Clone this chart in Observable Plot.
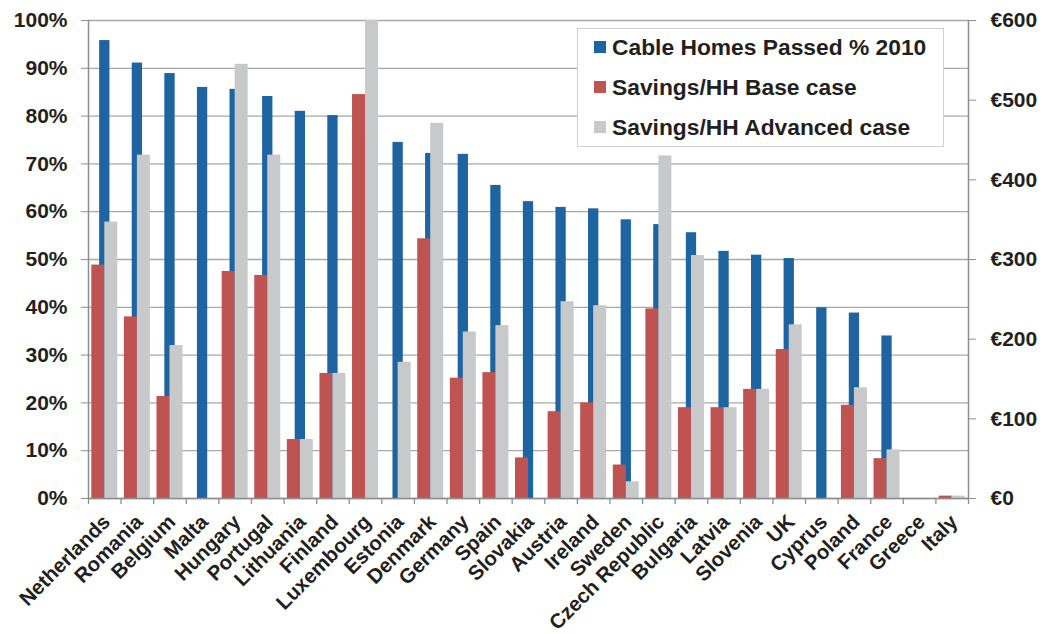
<!DOCTYPE html>
<html><head><meta charset="utf-8">
<script src="https://cdn.jsdelivr.net/npm/d3@7"></script>
<script src="https://cdn.jsdelivr.net/npm/@observablehq/plot@0.6"></script>
<style>
html,body{margin:0;padding:0;background:#fff;overflow:hidden;font-family:"Liberation Sans",Arial,sans-serif;}
#wrap{position:relative;width:1043px;height:634px;overflow:hidden;}
#chart svg{display:block;}
#legend{position:absolute;left:577px;top:28px;width:367px;height:119px;border:1px solid #d0d0d0;background:#fff;box-sizing:border-box;font-weight:bold;font-size:22.8px;color:#231f20;}
.row{position:absolute;left:16px;height:28px;display:flex;align-items:center;white-space:nowrap;}
.sw{width:12px;height:12px;margin-right:6px;flex:none;}
</style></head><body><div id="wrap"><div id="chart"></div><div id="legend"></div></div>
<script>
const countries = ["Netherlands","Romania","Belgium","Malta","Hungary","Portugal","Lithuania","Finland","Luxembourg","Estonia","Denmark","Germany","Spain","Slovakia","Austria","Ireland","Sweden","Czech Republic","Bulgaria","Latvia","Slovenia","UK","Cyprus","Poland","France","Greece","Italy"];
const cablePct = [95.8,91.1,88.9,86.0,85.6,84.1,81.0,80.1,76.0,74.5,72.2,72.0,65.5,62.1,60.9,60.6,58.3,57.3,55.6,51.7,50.9,50.2,39.9,38.8,34.0,0,0];
const savingsBase = [293,228,128,0,285,280,74,157,507,0,326,151,158,51,109,120,42,238,114,114,137,187,0,117,50,0,3];
const savingsAdv = [347,431,192,0,545,431,74,157,600,171,471,209,217,0,247,242,21,430,305,114,137,218,0,139,61,0,3];
const seriesNames = ["Cable Homes Passed % 2010","Savings/HH Base case","Savings/HH Advanced case"];
const seriesColors = ["#1d64a0","#be5352","#c8c9cb"];
const leftTicks = [0,10,20,30,40,50,60,70,80,90,100];
const rightTicks = [0,100,200,300,400,500,600];
const maxPct = 100, maxEuro = 600;

const W = 1043, H = 634, mL = 88, mR = 75, mT = 20, mB = 136;
const bw = (W - mL - mR) / countries.length;
const table = countries.map((c, i) => ({country: c, cable: cablePct[i], base: savingsBase[i], adv: savingsAdv[i]}));
const axisColor = "#8e8e8e";
const font = '"Liberation Sans", Arial, sans-serif';

const chart = Plot.plot({
  width: W, height: H,
  marginLeft: mL, marginRight: mR, marginTop: mT, marginBottom: mB,
  style: {fontFamily: font, fontWeight: "bold", fontSize: "21px", color: "#231f20", background: "#fff", overflow: "visible"},
  x: {type: "band", domain: countries, padding: 0, round: false},
  y: {domain: [0, 1]},
  marks: [
    Plot.gridY(leftTicks.map(d => d / maxPct), {stroke: "#a8a8a8", strokeOpacity: 1, strokeWidth: 1.3}),
    Plot.barY(table, {x: "country", y: d => d.cable / maxPct, fill: seriesColors[0], insetLeft: (bw - 10.3) / 2, insetRight: (bw - 10.3) / 2}),
    Plot.barY(table, {x: "country", y: d => d.base / maxEuro, fill: seriesColors[1], insetLeft: 3.3, insetRight: bw / 2}),
    Plot.barY(table, {x: "country", y: d => d.adv / maxEuro, fill: seriesColors[2], insetLeft: bw / 2, insetRight: 3.3}),
    Plot.ruleY([0], {stroke: axisColor, strokeWidth: 1.5}),
    Plot.ruleX([countries[0]], {x: d => d, dx: -bw / 2, stroke: axisColor, strokeWidth: 1.5}),
    Plot.ruleX([countries[countries.length - 1]], {x: d => d, dx: bw / 2, stroke: axisColor, strokeWidth: 1.5}),
    Plot.ruleX(countries, {x: d => d, dx: -bw / 2, y1: 0, y2: 0, insetBottom: -6, stroke: axisColor, strokeWidth: 1.3}),
    Plot.ruleX([countries[countries.length - 1]], {x: d => d, dx: bw / 2, y1: 0, y2: 0, insetBottom: -6, stroke: axisColor, strokeWidth: 1.3}),
    Plot.axisY(leftTicks.map(d => d / maxPct), {anchor: "left", tickFormat: d => Math.round(d * maxPct) + "%", tickSize: 7, tickPadding: 14, stroke: axisColor, fontSize: 21, label: null}),
    Plot.axisY(rightTicks.map(d => d / maxEuro), {anchor: "right", tickFormat: d => "€" + Math.round(d * maxEuro), tickSize: 7, tickPadding: 15, stroke: axisColor, fontSize: 21, label: null}),
    Plot.axisX({tickRotate: -45, tickSize: 0, tickPadding: 20, dx: 2, fontSize: 20.5, label: null})
  ]
});
document.getElementById("chart").appendChild(chart);

const legend = document.getElementById("legend");
seriesNames.forEach((name, i) => {
  const row = document.createElement("div");
  row.className = "row";
  row.style.top = (4 + i * 40) + "px";
  const sw = document.createElement("div");
  sw.className = "sw";
  sw.style.background = seriesColors[i];
  const t = document.createElement("span");
  t.textContent = name;
  row.appendChild(sw); row.appendChild(t);
  legend.appendChild(row);
});
</script></body></html>
